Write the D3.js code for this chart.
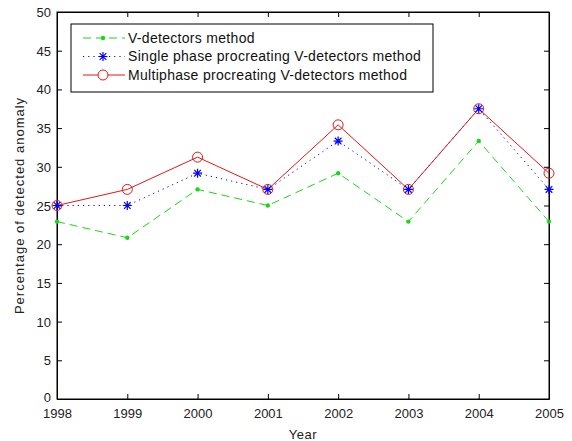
<!DOCTYPE html>
<html><head><meta charset="utf-8">
<script src="https://cdn.jsdelivr.net/npm/d3@7"></script>
<style>body{margin:0;background:#fff}svg{display:block}text{font-family:"Liberation Sans",Arial,sans-serif}</style>
</head><body><svg id="c" width="572" height="441"></svg>
<script>
const years = [1998, 1999, 2000, 2001, 2002, 2003, 2004, 2005];
const vDetectors = [22.92, 20.83, 27.08, 25.0, 29.17, 22.92, 33.33, 22.92];
const singlePhase = [25.0, 25.0, 29.17, 27.08, 33.33, 27.08, 37.5, 27.08];
const multiPhase = [25.0, 27.08, 31.25, 27.08, 35.42, 27.08, 37.5, 29.17];
const yTicks = [0, 5, 10, 15, 20, 25, 30, 35, 40, 45, 50];
const seriesNames = ["V-detectors method", "Single phase procreating V-detectors method", "Multiphase procreating V-detectors method"];

const svg = d3.select("#c");
const L = 57, R = 549, T = 12, B = 399;
const x = d3.scaleLinear().domain([1998, 2005]).range([L, R]);
const y = d3.scaleLinear().domain([0, 50]).range([B, T]);
const tc = "#222";

svg.append("rect").attr("x", L).attr("y", T).attr("width", R - L).attr("height", B - T)
  .attr("fill", "#fff").attr("stroke", "#000").attr("stroke-width", 1);

// axes
const ax = svg.append("g").attr("transform", `translate(0,${B})`)
  .call(d3.axisBottom(x).tickValues(years).tickFormat(d3.format("d")).tickSizeInner(-5).tickSizeOuter(0));
const ay = svg.append("g").attr("transform", `translate(${L},0)`)
  .call(d3.axisLeft(y).tickValues(yTicks).tickSizeInner(-5).tickSizeOuter(0).tickPadding(6));
const axT = svg.append("g").attr("transform", `translate(0,${T})`)
  .call(d3.axisTop(x).tickValues(years).tickFormat("").tickSizeInner(-5).tickSizeOuter(0));
const ayR = svg.append("g").attr("transform", `translate(${R},0)`)
  .call(d3.axisRight(y).tickValues(yTicks).tickFormat("").tickSizeInner(-5).tickSizeOuter(0));
[ax, ay, axT, ayR].forEach(g => {
  g.select(".domain").attr("stroke", "#000");
  g.selectAll(".tick line").attr("stroke", "#000");
  g.selectAll("text").attr("fill", tc).style("font-size", "13px").style("font-family", '"Liberation Sans",Arial,sans-serif');
});
ax.selectAll("text").attr("dy", "0.71em").attr("y", 10);
ay.selectAll("text").attr("dy", "0.35em");
ay.selectAll(".tick").filter(d => d === 0).select("text").attr("dy", "0.2em");

svg.append("text").attr("x", (L + R) / 2).attr("y", 439).attr("text-anchor", "middle")
  .attr("fill", tc).style("font-size", "13px").style("letter-spacing", "0.5px").text("Year");
svg.append("text").attr("transform", `translate(24,${(T + B) / 2}) rotate(-90)`).attr("text-anchor", "middle")
  .attr("fill", tc).style("font-size", "13px").style("letter-spacing", "1px").text("Percentage of detected anomaly");

const line = d3.line().x((d, i) => x(years[i])).y(d => y(d));
const green = "#18d818", blue = "#0000ff", red = "#e01818";

function star(g, cx, cy, col) {
  const r = 4.5, r2 = 3.3;
  g.append("path").attr("d",
    `M${cx - r},${cy}L${cx + r},${cy}M${cx},${cy - r}L${cx},${cy + r}M${cx - r2},${cy - r2}L${cx + r2},${cy + r2}M${cx - r2},${cy + r2}L${cx + r2},${cy - r2}`)
    .attr("stroke", col).attr("stroke-width", 1.2).attr("fill", "none");
}

const series = [
  { v: vDetectors, col: green, dash: "8,5", marker: "dot" },
  { v: singlePhase, col: blue, dash: "1.2,4", marker: "star" },
  { v: multiPhase, col: red, dash: null, marker: "circle" }
];

const plot = svg.append("g");
series.forEach(s => {
  plot.append("path").datum(s.v).attr("d", line).attr("fill", "none")
    .attr("stroke", s.col).attr("stroke-width", 1).attr("stroke-dasharray", s.dash);
});
series.slice().reverse().forEach(s => {
  const g = plot.append("g");
  s.v.forEach((d, i) => {
    const cx = x(years[i]), cy = y(d);
    if (s.marker === "dot") g.append("circle").attr("cx", cx).attr("cy", cy).attr("r", 2.2).attr("fill", s.col);
    else if (s.marker === "circle") g.append("circle").attr("cx", cx).attr("cy", cy).attr("r", 5).attr("fill", "none").attr("stroke", s.col).attr("stroke-width", 1);
    else star(g, cx, cy, s.col);
  });
});

// legend
const lg = svg.append("g");
lg.append("rect").attr("x", 71).attr("y", 24).attr("width", 362).attr("height", 68)
  .attr("fill", "#fff").attr("stroke", "#000").attr("stroke-width", 1);
const rowY = [38, 56.5, 75];
series.forEach((s, i) => {
  const yy = rowY[i];
  lg.append("line").attr("x1", 83).attr("x2", 125).attr("y1", yy).attr("y2", yy)
    .attr("stroke", s.col).attr("stroke-width", 1).attr("stroke-dasharray", s.dash);
  const cx = 103;
  if (s.marker === "dot") lg.append("circle").attr("cx", cx).attr("cy", yy).attr("r", 2.2).attr("fill", s.col);
  else if (s.marker === "circle") lg.append("circle").attr("cx", cx).attr("cy", yy).attr("r", 5).attr("fill", "#fff").attr("stroke", s.col);
  else star(lg, cx, yy, s.col);
  lg.append("text").attr("x", 128).attr("y", yy).attr("dy", "0.35em").attr("fill", "#111")
    .style("font-size", "14px").style("letter-spacing", "0.3px").text(seriesNames[i]);
});
</script></body></html>
